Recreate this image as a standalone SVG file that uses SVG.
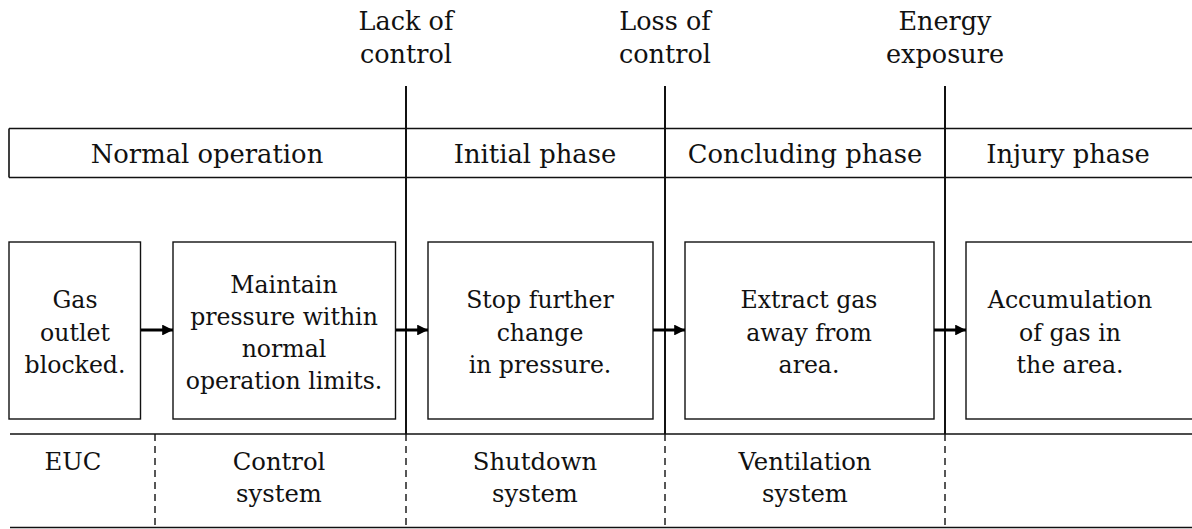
<svg xmlns="http://www.w3.org/2000/svg" width="1192" height="529" viewBox="0 0 1192 529">
  <style>
    text { font-family: "DejaVu Serif", "Liberation Serif", serif; fill: #111; text-anchor: middle; }
    .phase { font-size: 25.8px; }
    .box-text { font-size: 23.6px; }
    .mark { font-size: 25.5px; }
    .sys { font-size: 24.3px; }
    .box { fill: #fff; stroke: #111; stroke-width: 1.4; }
    .rule { stroke: #111; stroke-width: 1.6; fill: none; }
    .divider { stroke: #111; stroke-width: 2; fill: none; }
    .dash { stroke: #111; stroke-width: 1.4; stroke-dasharray: 7 5; fill: none; }
    .flow { stroke: #000; stroke-width: 3; fill: none; marker-end: url(#head); }
  </style>
  <defs>
    <marker id="head" viewBox="0 0 10 10" refX="10" refY="5" markerWidth="3.6" markerHeight="3.6" orient="auto" markerUnits="strokeWidth">
      <path d="M0,0 L10,5 L0,10 z" fill="#000"/>
    </marker>
  </defs>
  <rect width="1192" height="529" fill="#fff"/>

  <!-- phase band and system band -->
  <g id="bands">
    <path class="rule" d="M9,128.5 H1192 M9,128.5 V177.5 M9,177.5 H1192"/>
    <path class="rule" d="M10,434 H1192"/>
    <path class="rule" d="M10,527.5 H1192"/>
  </g>

  <!-- milestone dividers -->
  <g id="dividers">
    <path class="divider" d="M406,86 V434"/>
    <path class="divider" d="M665,86 V434"/>
    <path class="divider" d="M945,86 V434"/>
    <path class="dash" d="M155,434 V527"/>
    <path class="dash" d="M406,434 V527"/>
    <path class="dash" d="M665,434 V527"/>
    <path class="dash" d="M945,434 V527"/>
  </g>

  <g id="milestone-lack">
    <text class="mark" x="406" y="30">Lack of</text>
    <text class="mark" x="406" y="63">control</text>
  </g>
  <g id="milestone-loss">
    <text class="mark" x="665" y="30">Loss of</text>
    <text class="mark" x="665" y="63">control</text>
  </g>
  <g id="milestone-energy">
    <text class="mark" x="945" y="30">Energy</text>
    <text class="mark" x="945" y="63">exposure</text>
  </g>

  <g id="phase-normal"><text class="phase" x="207" y="163">Normal operation</text></g>
  <g id="phase-initial"><text class="phase" x="535" y="163">Initial phase</text></g>
  <g id="phase-concluding"><text class="phase" x="805" y="163">Concluding phase</text></g>
  <g id="phase-injury"><text class="phase" x="1068" y="163">Injury phase</text></g>

  <g id="node-gas-outlet">
    <rect class="box" x="9" y="242" width="131.5" height="177"/>
    <text class="box-text" x="75" y="308">Gas</text>
    <text class="box-text" x="75" y="341">outlet</text>
    <text class="box-text" x="75" y="373">blocked.</text>
  </g>
  <g id="node-maintain">
    <rect class="box" x="173" y="242" width="222.5" height="177"/>
    <text class="box-text" x="284" y="293">Maintain</text>
    <text class="box-text" x="284" y="325">pressure within</text>
    <text class="box-text" x="284" y="357">normal</text>
    <text class="box-text" x="284" y="389">operation limits.</text>
  </g>
  <g id="node-stop">
    <rect class="box" x="428" y="242" width="225" height="177"/>
    <text class="box-text" x="540" y="308">Stop further</text>
    <text class="box-text" x="540" y="341">change</text>
    <text class="box-text" x="540" y="373">in pressure.</text>
  </g>
  <g id="node-extract">
    <rect class="box" x="685" y="242" width="249" height="177"/>
    <text class="box-text" x="809" y="308">Extract gas</text>
    <text class="box-text" x="809" y="341">away from</text>
    <text class="box-text" x="809" y="373">area.</text>
  </g>
  <g id="node-accumulation">
    <rect class="box" x="966" y="242" width="240" height="177"/>
    <text class="box-text" x="1070" y="308">Accumulation</text>
    <text class="box-text" x="1070" y="341">of gas in</text>
    <text class="box-text" x="1070" y="373">the area.</text>
  </g>

  <g id="connectors">
    <path class="flow" d="M141,330 H173"/>
    <path class="flow" d="M396,330 H428"/>
    <path class="flow" d="M653,330 H685"/>
    <path class="flow" d="M934,330 H966"/>
  </g>

  <g id="sys-euc"><text class="sys" x="73" y="470">EUC</text></g>
  <g id="sys-control">
    <text class="sys" x="279" y="470">Control</text>
    <text class="sys" x="279" y="502">system</text>
  </g>
  <g id="sys-shutdown">
    <text class="sys" x="535" y="470">Shutdown</text>
    <text class="sys" x="535" y="502">system</text>
  </g>
  <g id="sys-ventilation">
    <text class="sys" x="805" y="470">Ventilation</text>
    <text class="sys" x="805" y="502">system</text>
  </g>
</svg>
